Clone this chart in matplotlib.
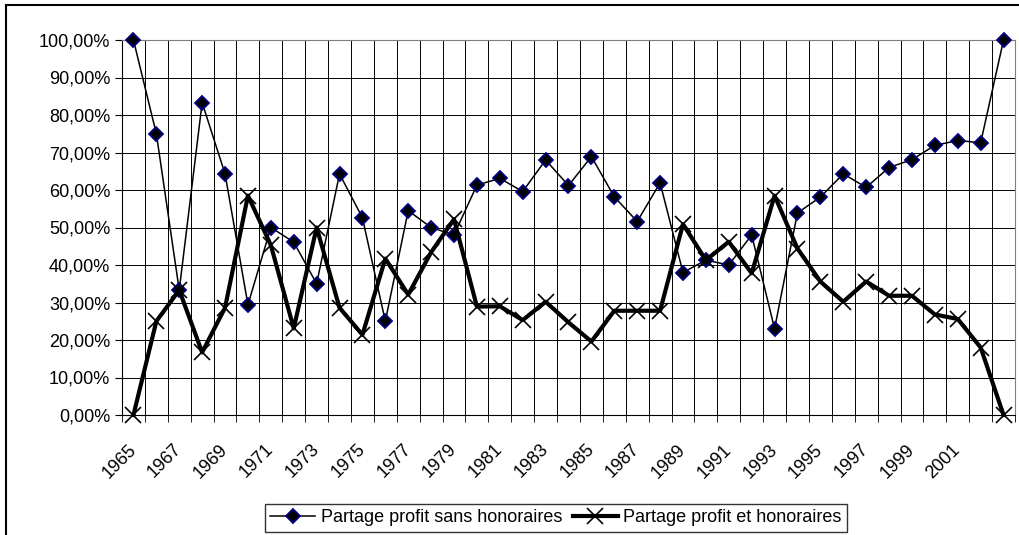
import numpy as np
import matplotlib.pyplot as plt
from matplotlib.ticker import FuncFormatter
from matplotlib.patches import Rectangle

plt.rcParams['font.family'] = ['Liberation Sans', 'DejaVu Sans']

years = list(range(1965, 2004))
sans_hon = [100, 75, 33.3, 83.3, 64.3, 29.4, 50, 46.1, 35, 64.3,
            52.6, 25, 54.5, 50, 48, 61.3, 63.1, 59.6, 68, 61.2,
            68.9, 58.2, 51.6, 61.9, 38, 41.3, 40, 48, 23, 53.9,
            58.1, 64.3, 60.7, 66, 68.1, 71.9, 73.2, 72.6, 100]
et_hon = [0, 25, 33.3, 16.7, 28.6, 58.5, 45.3, 23.1, 50, 28.6,
          21.4, 41.7, 32.1, 43.4, 52.2, 28.9, 29, 25.3, 30.2, 24.7,
          19.6, 27.8, 27.8, 27.8, 50.9, 41.3, 46.2, 37.8, 58.5, 44.4,
          35.6, 30.2, 35.6, 31.8, 31.8, 26.8, 25.6, 18, 0]
labels = ['Partage profit sans honoraires', 'Partage profit et honoraires']

W, H = 1020, 535
fig = plt.figure(figsize=(W / 100, H / 100), dpi=100)
ax = fig.add_axes([122/W, 1 - 415/H, (1015-122)/W, (415-40)/H])

x = np.arange(len(years))
ax.plot(x, sans_hon, color='black', lw=1.1, marker='D', markersize=7,
        markerfacecolor='black', markeredgecolor='#000080', markeredgewidth=1.3,
        label=labels[0], zorder=3, clip_on=False)
ax.plot(x, et_hon, color='black', lw=3, marker='x', markersize=12,
        markeredgewidth=1.2, label=labels[1], zorder=4, clip_on=False)

ax.set_xlim(-0.5, len(years) - 0.5)
ax.set_ylim(0, 100)
ax.set_yticks(np.arange(0, 101, 10))
ax.yaxis.set_major_formatter(FuncFormatter(lambda v, p: ('%.2f%%' % v).replace('.', ',')))

# Excel drops the last label (2003)
ax.set_xticks(x[:-1:2])
ax.set_xticklabels([str(y) for y in years[:-1:2]], rotation=45, ha='right',
                   va='center', rotation_mode='anchor')
ax.set_xticks(np.arange(-0.5, len(years), 1), minor=True)
ax.tick_params(axis='x', which='major', length=0, labelsize=13, pad=23)
ax.tick_params(axis='x', which='minor', length=5, direction='out')
ax.tick_params(axis='y', length=5, direction='out', labelsize=13, pad=3.5)

ax.grid(True, axis='y', color='black', lw=0.7)
ax.grid(True, axis='x', which='minor', color='black', lw=0.7)
for s in ['top', 'right']:
    ax.spines[s].set_color('#808080')
for s in ['left', 'bottom']:
    ax.spines[s].set_color('black')

leg = fig.legend(loc='upper center', bbox_to_anchor=(556/W, 1 - 504/H), ncol=2,
                 fontsize=13, frameon=True, fancybox=False, edgecolor='black',
                 borderpad=0.3, handlelength=2.5, columnspacing=0.6, handletextpad=0.3,
                 borderaxespad=0)
leg.get_frame().set_linewidth(1)

fig.patches.append(Rectangle((6/W, -0.05), 1.1, 1 - 5/H + 0.05,
                             transform=fig.transFigure, fill=False,
                             edgecolor='black', lw=1.5, clip_on=False))

fig.savefig('out.png', dpi=100)
